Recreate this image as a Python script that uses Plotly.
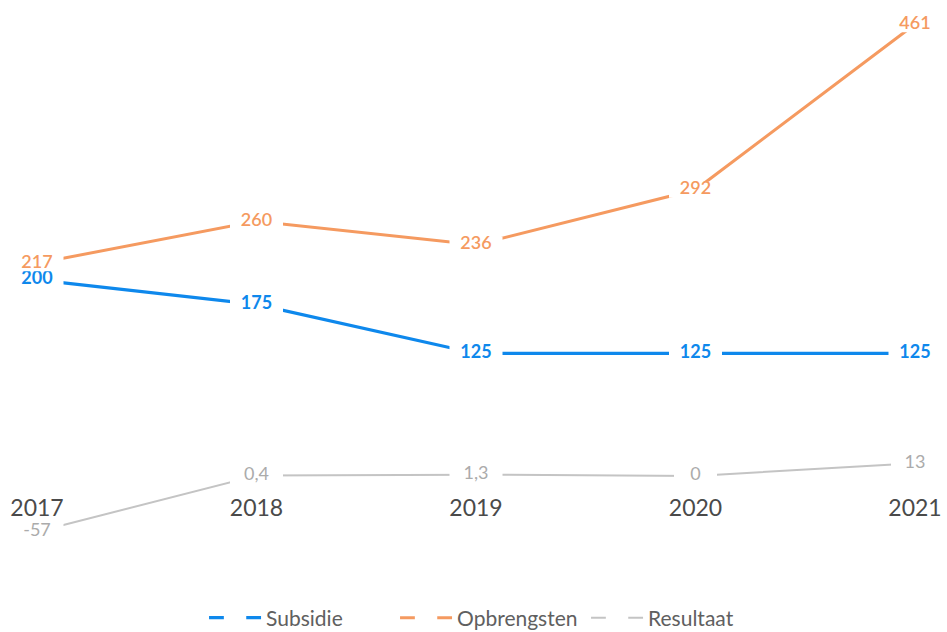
import plotly.graph_objects as go

years = ["2017", "2018", "2019", "2020", "2021"]
subsidie = [200, 175, 125, 125, 125]
opbrengsten = [217, 260, 236, 292, 461]
resultaat = [-57, 0.4, 1.3, 0, 13]
resultaat_labels = ["-57", "0,4", "1,3", "0", "13"]

BLUE = "#0E88EC"
ORANGE = "#F59A60"
GRAY = "#C4C4C4"
GRAY_TXT = "#ABABAB"

FONT = "Lato"
H = 632


def gap_sizes(labels, base=38, per_char=5):
    # line-ew symbol spans 1.4 x size
    return [(base + per_char * len(str(l))) / 1.4 for l in labels]


def series(name, y, labels, color, txtcolor, width, fsize, weight, stroke=18):
    return go.Scatter(
        x=years, y=y, name=name,
        mode="lines+markers+text",
        line=dict(color=color, width=width),
        marker=dict(symbol="line-ew", size=gap_sizes(labels), opacity=1,
                    color="white",
                    line=dict(color="white", width=stroke)),
        text=[str(l) for l in labels],
        textposition="middle center",
        textfont=dict(family=FONT, size=fsize, color=txtcolor, weight=weight),
        cliponaxis=False,
    )


fig = go.Figure()
fig.add_trace(series("Resultaat", resultaat, resultaat_labels, GRAY, GRAY_TXT, 2, 18, 400))
fig.add_trace(series("Subsidie", subsidie, subsidie, BLUE, BLUE, 3.2, 18, 700))
fig.add_trace(series("Opbrengsten", opbrengsten, opbrengsten, ORANGE, ORANGE, 3, 18, 600, stroke=16))

# legend order: Subsidie, Opbrengsten, Resultaat
fig.data[1].legendrank = 1
fig.data[2].legendrank = 2
fig.data[0].legendrank = 3

fig.update_layout(
    width=947, height=H,
    margin=dict(l=0, r=0, t=0, b=0, autoexpand=False),
    paper_bgcolor="white", plot_bgcolor="white",
    font=dict(family=FONT, color="#595959"),
    showlegend=True,
    legend=dict(orientation="h", x=0.518, xanchor="center", y=14 / H, yanchor="middle",
                font=dict(size=21, color="#606060", family=FONT),
                itemwidth=52, entrywidth=124, traceorder="normal"),
    xaxis=dict(type="category", range=[-0.1686, 4.1458], showgrid=False, zeroline=False,
               showline=False, ticks="", anchor="free", position=0.222,
               tickfont=dict(size=23, color="#4A4A4A", family=FONT)),
    yaxis=dict(range=[-85.8, 485.7], domain=[72 / H, 1], visible=False,
               showgrid=False, zeroline=False),
)

fig.write_html("out.html", post_script="document.body.style.margin='0px';",
               config={"displayModeBar": False})
